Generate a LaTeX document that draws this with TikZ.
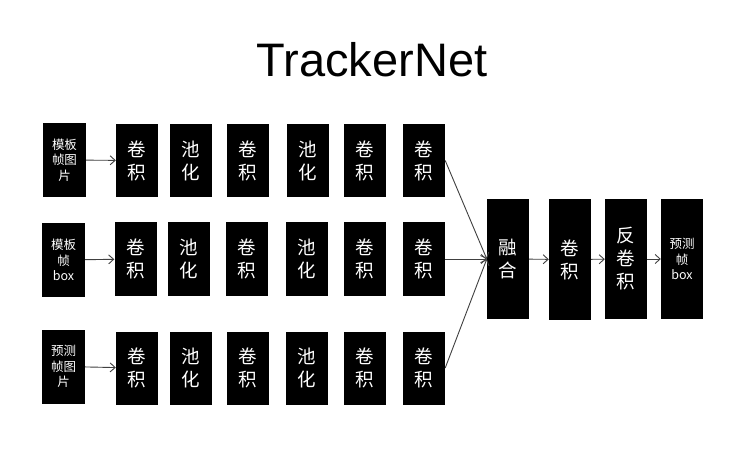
\documentclass[tikz,border=0pt]{standalone}
\usepackage{fontspec}
\setmainfont{Liberation Sans}
\newfontfamily\cjk{Noto Sans CJK SC}
\usetikzlibrary{arrows.meta}
\tikzset{
  blk/.style={fill=black, text=white, inner sep=0pt, align=center, minimum width=42pt, minimum height=73pt},
  big/.style={blk, font=\cjk\fontsize{18.5}{23}\selectfont},
  small/.style={blk, font=\cjk\fontsize{12.5}{15.5}\selectfont},
  tall/.style={minimum height=120pt},
  arr/.style={draw=black!75, line width=0.9pt, -{Straight Barb[length=5pt,width=9pt]}}
}
\begin{document}
\begin{tikzpicture}[x=1pt,y=-1pt]
\useasboundingbox[fill=white] (0,0) rectangle (729,476);
\node[font=\fontsize{47}{52}\selectfont] (title) at (372,60) {TrackerNet};
% row 1
\node[small, minimum width=43pt, minimum height=74pt] (i1) at (64.5,160) {模板\\帧图\\片};
\node[big] (a1) at (137,160.5) {卷\\积};
\node[big] (b1) at (191,160.5) {池\\化};
\node[big] (c1) at (247.5,160.5) {卷\\积};
\node[big] (d1) at (308,160.5) {池\\化};
\node[big] (e1) at (365,160.5) {卷\\积};
\node[big] (f1) at (424,160.5) {卷\\积};
% row 2
\node[small, minimum width=43pt, minimum height=74pt] (i2) at (63.5,260) {模板\\帧\\box};
\node[big] (a2) at (135.5,259) {卷\\积};
\node[big] (b2) at (189,259) {池\\化};
\node[big] (c2) at (246.5,259) {卷\\积};
\node[big] (d2) at (307,259) {池\\化};
\node[big] (e2) at (365,259) {卷\\积};
\node[big] (f2) at (424,259) {卷\\积};
% row 3
\node[small, minimum width=43pt, minimum height=74pt] (i3) at (63.5,366.5) {预测\\帧图\\片};
\node[big] (a3) at (137,368) {卷\\积};
\node[big] (b3) at (191,368) {池\\化};
\node[big] (c3) at (247.5,368) {卷\\积};
\node[big] (d3) at (307,368) {池\\化};
\node[big] (e3) at (365,368) {卷\\积};
\node[big] (f3) at (424,368) {卷\\积};
% right side
\node[big, tall] (fuse) at (508,259) {融\\合};
\node[big, tall] (conv) at (570,259.5) {卷\\积};
\node[big, tall] (deconv) at (626,259) {反\\卷\\积};
\node[small, tall] (out) at (682,259) {预测\\帧\\box};
% connectors
\draw[arr] (i1) -- (a1);
\draw[arr] (i2) -- (a2);
\draw[arr] (i3) -- (a3);
\draw[arr] (f1.east) -- (fuse.west);
\draw[arr] (f2.east) -- (fuse.west);
\draw[arr] (f3.east) -- (fuse.west);
\draw[arr] (fuse) -- (conv);
\draw[arr] (conv) -- (deconv);
\draw[arr] (deconv) -- (out);
\end{tikzpicture}
\end{document}
